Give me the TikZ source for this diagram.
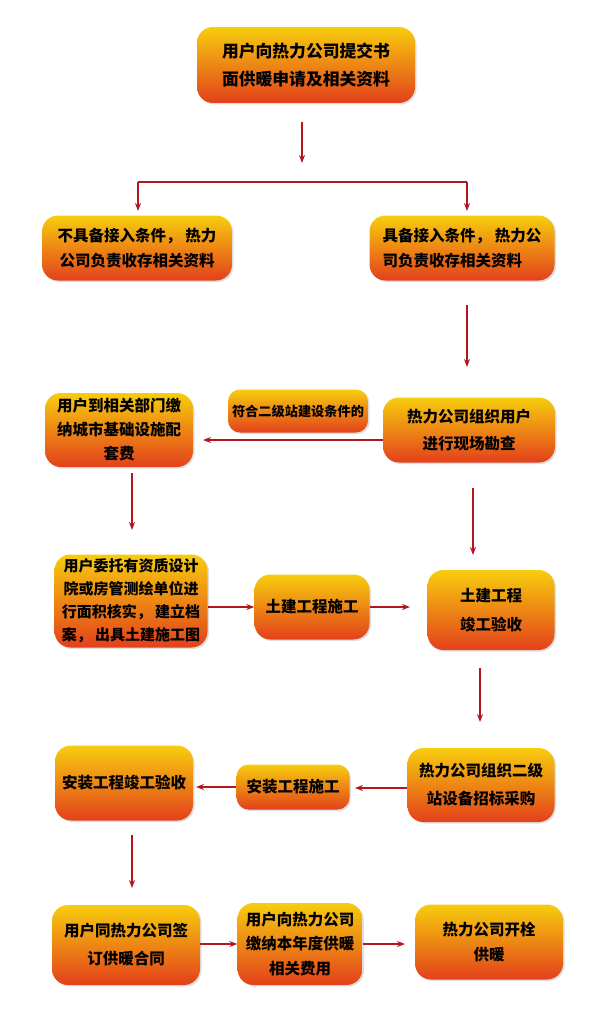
\documentclass[tikz,border=0pt]{standalone}
\usepackage{fontspec}
\setmainfont{Noto Sans CJK SC}
\usetikzlibrary{arrows.meta,shadows}
\definecolor{boxtop}{HTML}{F7CD0E}
\definecolor{boxmid}{HTML}{F28F18}
\definecolor{boxbot}{HTML}{E3401B}
\definecolor{arr}{HTML}{B3161C}
\tikzset{
  box/.style={rounded corners=16pt, top color=boxtop, middle color=boxmid, bottom color=boxbot,
    align=center, inner sep=2pt, font=\fontsize{15.5}{24.5}\selectfont\bfseries,
    drop shadow={opacity=0.25, shadow xshift=1.5pt, shadow yshift=-1.5pt}},
  conn/.style={draw=arr, line width=1.4pt, -{Stealth[length=8pt,width=6pt]}},
  plain/.style={draw=arr, line width=1.4pt}
}
\begin{document}
\begin{tikzpicture}[x=1pt,y=-1pt]
\useasboundingbox (0,0) rectangle (600,1014);
% nodes
\node[box, minimum width=218pt, minimum height=76pt, font=\fontsize{16.8}{28}\selectfont\bfseries] (n1) at (306,65) {用户向热力公司提交书\\面供暖申请及相关资料};
\node[box, minimum width=190pt, minimum height=65pt] (n2) at (137,248) {不具备接入条件， 热力\\公司负责收存相关资料};
\node[box, minimum width=185pt, minimum height=65pt, align=left] (n3) at (462,248) {具备接入条件， 热力公\\司负责收存相关资料};
\node[box, minimum width=172pt, minimum height=65pt, font=\fontsize{15.5}{27}\selectfont\bfseries] (n4) at (469,430) {热力公司组织用户\\进行现场勘查};
\node[box, minimum width=140pt, minimum height=43pt, rounded corners=12pt, font=\fontsize{13.2}{18}\selectfont\bfseries] (n5) at (298,411) {符合二级站建设条件的};
\node[box, minimum width=148pt, minimum height=74pt, font=\fontsize{15.5}{24}\selectfont\bfseries] (n6) at (119,430) {用户到相关部门缴\\纳城市基础设施配\\套费};
\node[box, minimum width=153pt, minimum height=93pt, font=\fontsize{15}{23}\selectfont\bfseries] (n7) at (131,601) {用户委托有资质设计\\院或房管测绘单位进\\行面积核实， 建立档\\案， 出具土建施工图};
\node[box, minimum width=115pt, minimum height=65pt] (n8) at (312,607) {土建工程施工};
\node[box, minimum width=127pt, minimum height=80pt, font=\fontsize{15.5}{29}\selectfont\bfseries] (n9) at (491,610) {土建工程\\竣工验收};
\node[box, minimum width=147pt, minimum height=74pt, font=\fontsize{15.5}{28}\selectfont\bfseries] (n10) at (481,785) {热力公司组织二级\\站设备招标采购};
\node[box, minimum width=113pt, minimum height=45pt, rounded corners=12pt] (n11) at (293,787) {安装工程施工};
\node[box, minimum width=138pt, minimum height=75pt] (n12) at (124,783) {安装工程竣工验收};
\node[box, minimum width=148pt, minimum height=80pt, font=\fontsize{15.5}{28}\selectfont\bfseries] (n13) at (126,945) {用户同热力公司签\\订供暖合同};
\node[box, minimum width=125pt, minimum height=82pt] (n14) at (300,944) {用户向热力公司\\缴纳本年度供暖\\相关费用};
\node[box, minimum width=148pt, minimum height=75pt] (n15) at (489,942) {热力公司开栓\\供暖};
% connector coordinates
\coordinate (t1) at (302,122);
\coordinate (t2) at (302,163);
\coordinate (hl) at (138,182);
\coordinate (hr) at (467,182);
\coordinate (al) at (138,211);
\coordinate (ar) at (467,211);
\coordinate (s3) at (467,305);
\coordinate (e3) at (467,367);
\coordinate (s6) at (132,473);
\coordinate (e6) at (132,530);
\coordinate (s4) at (473,488);
\coordinate (e4) at (473,555);
\coordinate (s9) at (480,668);
\coordinate (e9) at (480,722);
\coordinate (s12) at (132,835);
\coordinate (e12) at (132,888);
% connectors
\draw[conn] (t1) -- (t2);
\draw[plain] (hl) -- (hr);
\draw[conn] (hl) -- (al);
\draw[conn] (hr) -- (ar);
\draw[conn] (s3) -- (e3);
\draw[conn] (n4.west |- 0,440) -- (203,440);
\draw[conn] (s6) -- (e6);
\draw[conn] (s4) -- (e4);
\draw[conn] (n7.east |- 0,607) -- (n8.west |- 0,607);
\draw[conn] (n8.east) -- (410,607);
\draw[conn] (s9) -- (e9);
\draw[conn] (n10.west |- 0,788) -- (355,788);
\draw[conn] (n11.west |- 0,787) -- (196,787);
\draw[conn] (s12) -- (e12);
\draw[conn] (n13.east |- 0,944) -- (n14.west |- 0,944);
\draw[conn] (n14.east |- 0,944) -- (405,944);
\end{tikzpicture}
\end{document}
